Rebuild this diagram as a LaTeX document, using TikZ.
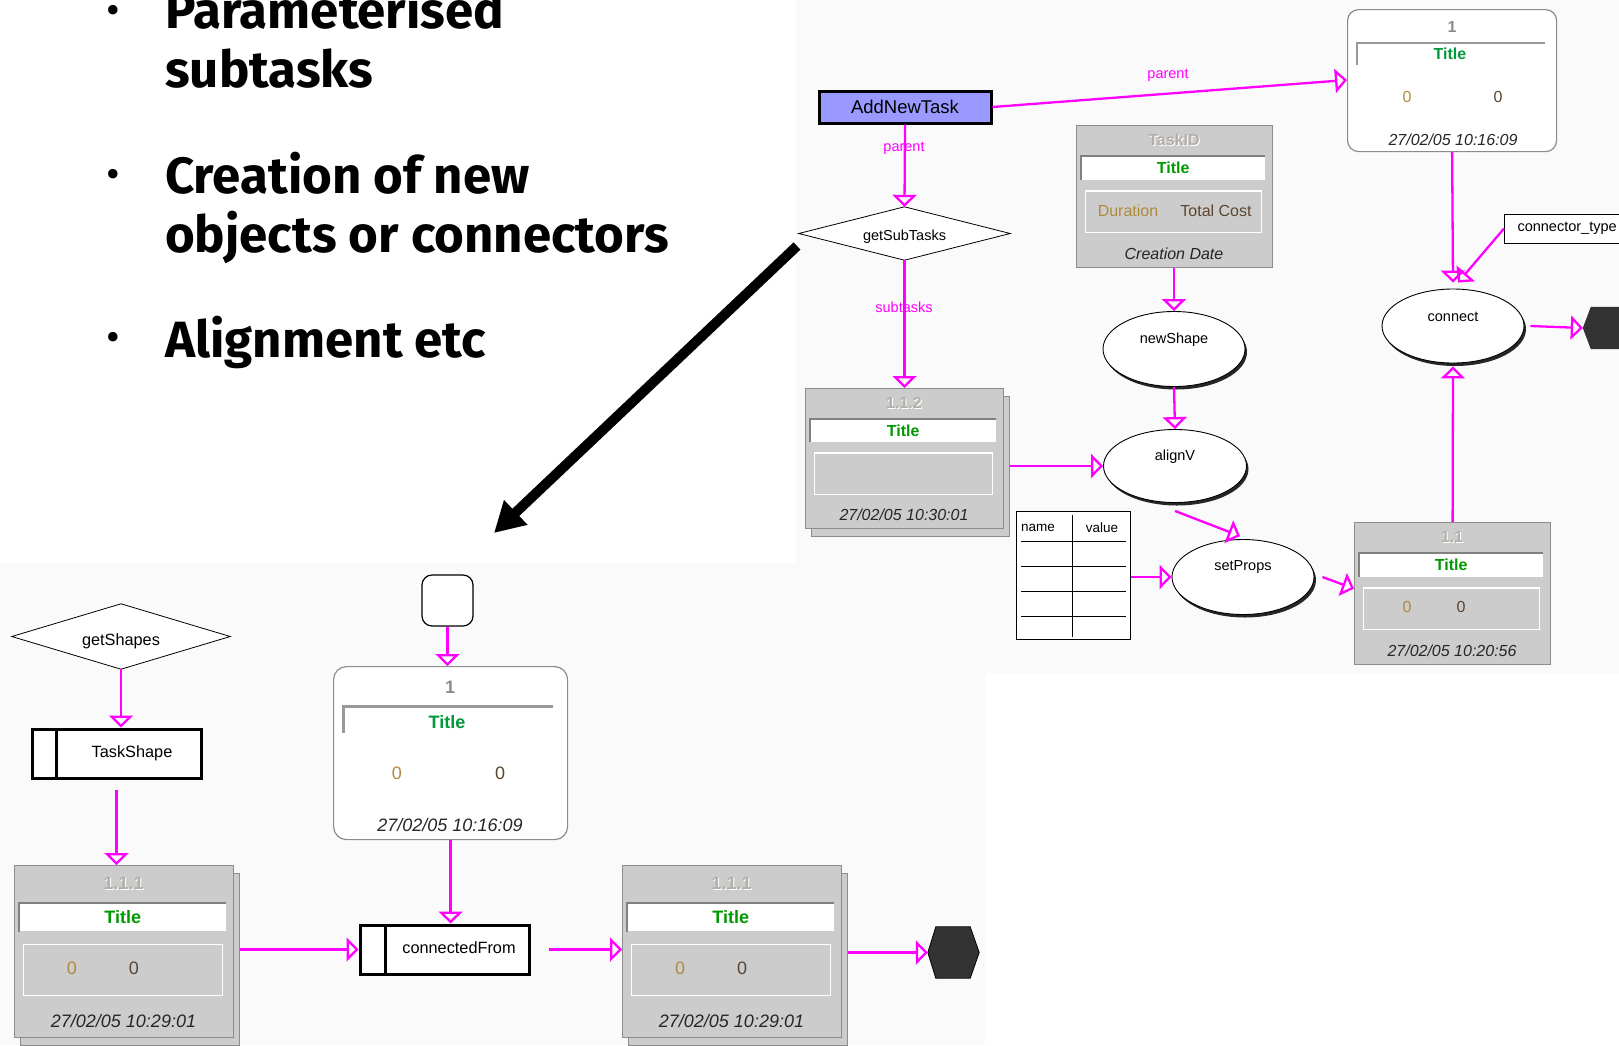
\documentclass[tikz,border=0pt]{standalone}
\usepackage{fontspec}
\setmainfont{Liberation Sans}
\newfontfamily\bulletfont{Fira Sans}
\usetikzlibrary{arrows.meta,shapes.geometric,calc}
\definecolor{mag}{HTML}{FF00FF}
\definecolor{boxgray}{HTML}{CCCCCC}
\definecolor{boxedge}{HTML}{8C8C8C}
\definecolor{titlegreen}{HTML}{009900}
\definecolor{titlegreenB}{HTML}{00993C}
\definecolor{zeroA}{HTML}{B08A3C}
\definecolor{zeroB}{HTML}{5C4530}
\definecolor{idgray}{HTML}{B4B0A8}
\definecolor{addfill}{HTML}{9999FF}
\definecolor{hexfill}{HTML}{333333}
\definecolor{bgfaint}{HTML}{FAFAFA}
\tikzset{
  conn/.style={draw=mag, line width=2.3pt, -{Triangle[open,length=12pt,width=24pt]}},
  maglbl/.style={text=mag, font=\fontsize{14.5}{16}\selectfont, inner sep=0pt},
  ell/.style={ellipse, draw=black, line width=0.9pt, fill=white, inner sep=0pt},
  ellsh/.style={ellipse, fill=black!85, inner sep=0pt},
  etxt/.style={font=\fontsize{14.5}{16}\selectfont, inner sep=0pt},
  gmain/.style={draw=boxedge, line width=1.2pt, fill=boxgray, inner sep=0pt},
  rbox/.style={draw=boxedge, line width=1.2pt, fill=white, rounded corners=11pt, inner sep=0pt},
  tframe/.style={draw=black!40, line width=2.6pt},
  thickbox/.style={draw=black, line width=3pt, fill=white, inner sep=0pt},
  bigtxt/.style={font=\bulletfont\bfseries\fontsize{51}{60}\selectfont, inner sep=0pt, anchor=base west},
  bdot/.style={font=\bulletfont\fontsize{42}{42}\selectfont, inner sep=0pt},
  bigarrow/.style={draw=black, line width=10pt, -{Triangle[length=30pt,width=32pt]}},
  lowtxt/.style={font=\fontsize{16.3}{18}\selectfont, inner sep=0pt},
  dmd/.style={draw=black, line width=0.8pt, fill=white},
}
% gray task box: name, x0, y0, x1, y1, font size, id, date, shadow flag
\newcommand{\gbox}[9]{%
  \pgfmathsetmacro\gbW{#4-#2}%
  \pgfmathsetmacro\gbH{#5-#3}%
  \pgfmathsetmacro\gbC{(#2+#4)/2}%
  \ifnum#9=1
    \node[gmain, anchor=north west, minimum width=\gbW pt, minimum height=\gbH pt] (#1sh) at ({#2+6},{#3+8}) {};
  \fi
  \node[gmain, anchor=north west, minimum width=\gbW pt, minimum height=\gbH pt] (#1) at (#2,#3) {};
  \node[fill=white, inner sep=0pt, anchor=north west, minimum width=\gbW pt-12pt, minimum height=0.165*\gbH pt,
        font=\fontsize{#6}{#6}\selectfont\bfseries, text=titlegreen] (#1t) at ({#2+5},{#3+0.22*\gbH}) {Title};
  \draw[draw=black!50, line width=1.6pt] (#1t.south west) -- (#1t.north west) -- (#1t.north east);
  \node[draw=white, line width=1.2pt, inner sep=0pt, anchor=north west, minimum width=\gbW pt-20pt,
        minimum height=0.295*\gbH pt] (#1i) at ({#2+9},{#3+0.46*\gbH}) {};
  \node[font=\fontsize{#6}{#6}\selectfont\bfseries, text=white, inner sep=0pt] (#1idw) at ({\gbC+1},{#3+0.107*\gbH+1}) {#7};
  \node[font=\fontsize{#6}{#6}\selectfont\bfseries, text=idgray, inner sep=0pt] (#1id) at (\gbC,{#3+0.107*\gbH}) {#7};
  \node[font=\fontsize{#6}{#6}\selectfont\itshape, text=black!85, inner sep=0pt] (#1d) at (\gbC,{#3+0.905*\gbH}) {#8};
}
% diamond drawn from a rectangular node's anchors
\newcommand{\dmdraw}[1]{%
  \path[dmd] (#1.north) -- (#1.east) -- (#1.south) -- (#1.west) -- cycle;
}
\begin{document}
\begin{tikzpicture}[x=1pt,y=-1pt]
\useasboundingbox (0,0) rectangle (1619,1045);
\clip (0,0) rectangle (1619,1045);
\fill[white] (0,0) rectangle (1619,1045);
\fill[bgfaint] (796,0) rectangle (1619,673);
\fill[bgfaint] (0,563) rectangle (985,1045);

% ---------- bullet text ----------
\node[bdot] (d1) at (113,15) {•};
\node[bdot] (d2) at (113,179) {•};
\node[bdot] (d3) at (113,342) {•};
\node[bigtxt] (b1a) at (165,28) {Parameterised};
\node[bigtxt] (b1b) at (165,87) {subtasks};
\node[bigtxt] (b2a) at (165,193) {Creation of new};
\node[bigtxt] (b2b) at (165,252) {objects or connectors};
\node[bigtxt] (b3) at (165,357) {Alignment etc};

% ---------- big arrow ----------
\coordinate (bigS) at (797,246);
\coordinate (bigE) at (494,533);
\draw[bigarrow] (bigS) -- (bigE);

% ---------- upper right diagram ----------
\node[draw=black, line width=3pt, fill=addfill, minimum width=172pt, minimum height=32pt, inner sep=0pt,
      font=\fontsize{18.5}{20}\selectfont] (ant) at (905,107) {AddNewTask};
\node[minimum width=211pt, minimum height=53pt, inner sep=0pt] (gst) at (904.5,233.5) {};
\dmdraw{gst}
\node[font=\fontsize{14.5}{16}\selectfont, inner sep=0pt] (gstL) at (904.5,237) {getSubTasks};

\gbox{t112}{805}{388}{1003}{528}{16}{1.1.2}{27/02/05 10:30:01}{1}
\gbox{tid}{1076}{125}{1272}{267}{16}{TaskID}{Creation Date}{0}
\node[font=\fontsize{16}{18}\selectfont, text=zeroA, inner sep=0pt] (tidA) at (1128,211) {Duration};
\node[font=\fontsize{16}{18}\selectfont, text=zeroB, inner sep=0pt] (tidB) at (1216,211) {Total Cost};
\gbox{t11}{1354}{522}{1550}{664}{16}{1.1}{27/02/05 10:20:56}{0}
\node[font=\fontsize{16}{18}\selectfont, text=zeroA, inner sep=0pt] (t11a) at (1407,607) {0};
\node[font=\fontsize{16}{18}\selectfont, text=zeroB, inner sep=0pt] (t11b) at (1461,607) {0};

% rounded box 1 (top right)
\node[rbox, anchor=north west, minimum width=209pt, minimum height=142pt] (r1) at (1347,9) {};
\node[font=\fontsize{16}{18}\selectfont\bfseries, text=black!45, inner sep=0pt] (r1id) at (1452,27) {1};
\draw[tframe] (1357,65) -- (1357,43) -- (1545,43);
\node[font=\fontsize{16}{18}\selectfont\bfseries, text=titlegreenB, inner sep=0pt] (r1t) at (1450,54) {Title};
\node[font=\fontsize{16}{18}\selectfont, text=zeroA, inner sep=0pt] (r1a) at (1407,97) {0};
\node[font=\fontsize{16}{18}\selectfont, text=zeroB, inner sep=0pt] (r1b) at (1498,97) {0};
\node[font=\fontsize{16}{18}\selectfont\itshape, text=black!85, inner sep=0pt] (r1d) at (1453,140) {27/02/05 10:16:09};

% ellipses
\node[ellsh, minimum width=142pt, minimum height=75pt] (nsS) at (1176,352) {};
\node[ell, minimum width=142pt, minimum height=75pt] (ns) at (1174,349) {};
\node[etxt] (nsL) at (1174,340) {newShape};
\node[ellsh, minimum width=143pt, minimum height=73pt] (avS) at (1177,469) {};
\node[ell, minimum width=143pt, minimum height=73pt] (av) at (1175,466) {};
\node[etxt] (avL) at (1175,457) {alignV};
\node[ellsh, minimum width=142pt, minimum height=75pt] (spS) at (1245,580) {};
\node[ell, minimum width=142pt, minimum height=75pt] (sp) at (1243,577) {};
\node[etxt] (spL) at (1243,567) {setProps};
\node[ellsh, minimum width=142pt, minimum height=74pt] (cnS) at (1455,329) {};
\node[ell, minimum width=142pt, minimum height=74pt] (cn) at (1453,326) {};
\node[etxt] (cnL) at (1453,317) {connect};

% name/value table
\node[draw=black, line width=1pt, fill=white, anchor=north west, minimum width=114pt, minimum height=128pt, inner sep=0pt] (tbl) at (1016,511) {};
\draw[line width=1pt] (1072,515) -- (1072,637);
\foreach \yy in {541,566,591,616} \draw[line width=1pt] (1021,\yy) -- (1126,\yy);
\node[font=\fontsize{13.5}{15}\selectfont, inner sep=0pt] (tblN) at (1038,528) {name};
\node[font=\fontsize{13.5}{15}\selectfont, inner sep=0pt] (tblV) at (1102,528) {value};

% connector_type box and hexagon
\node[draw=black, line width=1pt, fill=white, anchor=west, minimum height=29pt, inner xsep=13pt, inner ysep=0pt,
      font=\fontsize{14.5}{16}\selectfont] (ctype) at (1504,228.5) {connector\_type};
\node[inner sep=0pt, minimum width=48pt, minimum height=42pt] (hexR) at (1607,328) {};
\fill[hexfill] (hexR.west) -- ($(hexR.north west)+(8,0)$) -- ($(hexR.north east)+(-8,0)$) -- (hexR.east)
   -- ($(hexR.south east)+(-8,0)$) -- ($(hexR.south west)+(8,0)$) -- cycle;

% connectors (upper right)
\draw[conn] (ant.east) -- (r1.west |- 0,80);
\node[maglbl] (lp1) at (1168,75) {parent};
\draw[conn] (ant.south) -- (gst.north);
\node[maglbl] (lp2) at (904,148) {parent};
\draw[conn] (gst.south) -- (gst.south |- t112.north);
\node[maglbl] (lst) at (904,307) {subtasks};
\draw[conn] (tid.south -| ns.north) -- (ns.north);
\draw[conn] (ns.south) -- (av.north);
\draw[conn] (t112sh.east |- av.west) -- (av.west);
\draw[conn] ([yshift=-8pt]av.south) -- ([xshift=-3pt,yshift=3pt]sp.north);
\draw[conn] (tbl.east |- sp.west) -- (sp.west);
\draw[conn] ([xshift=8pt]sp.east) -- ([yshift=5pt]t11.west);
\draw[conn] (t11.north) -- ([yshift=-3pt]cn.south);
\draw[conn] (r1.south) -- ([yshift=6pt]cn.north);
\draw[conn] (ctype.west) -- ([xshift=5pt,yshift=6pt]cn.north);
\draw[conn] ([xshift=6pt]cn.east) -- (hexR.west);

% ---------- lower left diagram ----------
\node[minimum width=218pt, minimum height=65pt, inner sep=0pt] (gsh) at (121,636.5) {};
\dmdraw{gsh}
\node[lowtxt] (gshL) at (121,641) {getShapes};
\node[thickbox, minimum width=169pt, minimum height=49pt] (tsh) at (116.5,753.5) {};
\draw[line width=3pt] ($(tsh.north west)+(26,0)$) -- ($(tsh.south west)+(26,0)$);
\node[lowtxt] (tshL) at (132,753) {TaskShape};

\node[thickbox, minimum width=169pt, minimum height=49pt] (cfr) at (444.5,949.5) {};
\draw[line width=3pt] ($(cfr.north west)+(27,0)$) -- ($(cfr.south west)+(27,0)$);
\node[lowtxt] (cfrL) at (459,948) {connectedFrom};

\node[draw=black, line width=1.2pt, fill=white, rounded corners=10pt, minimum width=51pt, minimum height=51pt, inner sep=0pt] (sq) at (447.5,600.5) {};

% rounded box 1 (lower)
\node[rbox, rounded corners=13pt, anchor=north west, minimum width=234pt, minimum height=173pt] (r2) at (333,666) {};
\node[font=\fontsize{18}{20}\selectfont\bfseries, text=black!45, inner sep=0pt] (r2id) at (450,687) {1};
\draw[tframe, line width=3pt] (343,733) -- (343,706) -- (553,706);
\node[font=\fontsize{18}{20}\selectfont\bfseries, text=titlegreenB, inner sep=0pt] (r2t) at (447,722) {Title};
\node[font=\fontsize{18}{20}\selectfont, text=zeroA, inner sep=0pt] (r2a) at (397,773) {0};
\node[font=\fontsize{18}{20}\selectfont, text=zeroB, inner sep=0pt] (r2b) at (500,773) {0};
\node[font=\fontsize{18}{20}\selectfont\itshape, text=black!85, inner sep=0pt] (r2d) at (450,825) {27/02/05 10:16:09};

\gbox{ta}{14}{865}{233}{1037}{18}{1.1.1}{27/02/05 10:29:01}{1}
\node[font=\fontsize{18}{20}\selectfont, text=zeroA, inner sep=0pt] (taa) at (72,968) {0};
\node[font=\fontsize{18}{20}\selectfont, text=zeroB, inner sep=0pt] (tab) at (134,968) {0};
\gbox{tb}{622}{865}{841}{1037}{18}{1.1.1}{27/02/05 10:29:01}{1}
\node[font=\fontsize{18}{20}\selectfont, text=zeroA, inner sep=0pt] (tba) at (680,968) {0};
\node[font=\fontsize{18}{20}\selectfont, text=zeroB, inner sep=0pt] (tbb) at (742,968) {0};

\node[inner sep=0pt, minimum width=51pt, minimum height=51pt] (hexL) at (953.5,952.5) {};
\fill[hexfill] (hexL.west) -- ($(hexL.north west)+(8,0)$) -- ($(hexL.north east)+(-9,0)$) -- (hexL.east)
   -- ($(hexL.south east)+(-9,0)$) -- ($(hexL.south west)+(8,0)$) -- cycle;
\draw[black, line width=0.8pt] (hexL.west) -- ($(hexL.north west)+(8,0)$) -- ($(hexL.north east)+(-9,0)$) -- (hexL.east)
   -- ($(hexL.south east)+(-9,0)$) -- ($(hexL.south west)+(8,0)$) -- cycle;

% connectors (lower)
\draw[conn] (gsh.south) -- (gsh.south |- tsh.north);
\draw[conn] ([yshift=-10pt]tsh.south) -- (tsh.south |- ta.north);
\draw[conn] (sq.south) -- (sq.south |- r2.north);
\draw[conn] (r2.south) -- (r2.south |- cfr.north);
\draw[conn] (tash.east |- cfr.west) -- (cfr.west);
\draw[conn] ([xshift=18pt]cfr.east) -- (cfr.east -| tb.west);
\draw[conn] (tbsh.east |- hexL.west) -- (hexL.west);
\end{tikzpicture}
\end{document}
